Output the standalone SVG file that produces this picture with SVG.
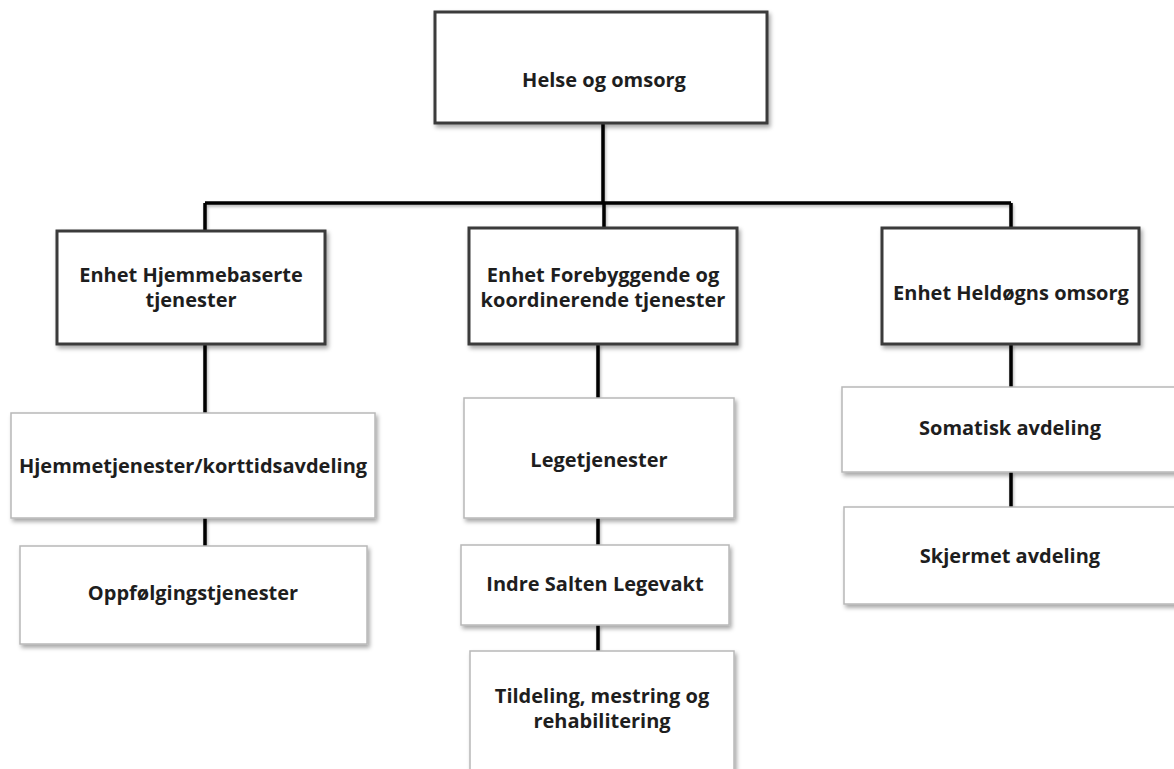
<svg xmlns="http://www.w3.org/2000/svg" width="1174" height="769" viewBox="0 0 1174 769">
  <defs>
    <filter id="shadow" x="-10%" y="-10%" width="130%" height="140%">
      <feDropShadow dx="2" dy="3" stdDeviation="2" flood-color="#000" flood-opacity="0.35"/>
    </filter>
    <filter id="lineShadow" x="-10%" y="-10%" width="130%" height="140%">
      <feDropShadow dx="1" dy="2" stdDeviation="1.5" flood-color="#000" flood-opacity="0.3"/>
    </filter>
  </defs>
  <style>
    .unit { fill: #ffffff; stroke: #3a3a3a; stroke-width: 3; filter: url(#shadow); }
    .sub { fill: #ffffff; stroke: #b8b8b8; stroke-width: 1.5; filter: url(#shadow); }
    .link { fill: none; stroke: #000000; stroke-width: 3.5; }
    text { font-family: "Open Sans", "Liberation Sans", sans-serif; font-weight: bold; font-size: 20px; fill: #1e1e1e; text-anchor: middle; }
  </style>
  <rect width="1174" height="769" fill="#ffffff"/>

  <!-- connectors -->
  <g id="connectors" filter="url(#lineShadow)">
    <path class="link" d="M603,123 V203 M205,203 H1011 M205,203 V231 M604,203 V228 M1011,203 V228"/>
    <path class="link" d="M205,344 V413 M205,518 V546"/>
    <path class="link" d="M598,344 V398 M598,518 V545 M598,625 V651"/>
    <path class="link" d="M1011,344 V387 M1011,472 V507"/>
  </g>

  <!-- top -->
  <g id="helse-og-omsorg">
    <rect class="unit" x="435" y="12" width="332" height="111"/>
    <text x="604" y="87">Helse og omsorg</text>
  </g>

  <!-- units -->
  <g id="enhet-hjemmebaserte">
    <rect class="unit" x="57" y="231" width="268" height="113"/>
    <text x="191" y="282">Enhet Hjemmebaserte</text>
    <text x="191" y="307">tjenester</text>
  </g>
  <g id="enhet-forebyggende">
    <rect class="unit" x="469" y="228" width="268" height="116"/>
    <text x="603" y="282">Enhet Forebyggende og</text>
    <text x="603" y="307">koordinerende tjenester</text>
  </g>
  <g id="enhet-heldogns">
    <rect class="unit" x="882" y="228" width="257" height="116"/>
    <text x="1011" y="300">Enhet Heldøgns omsorg</text>
  </g>

  <!-- left column -->
  <g id="hjemmetjenester">
    <rect class="sub" x="11" y="413" width="364" height="105"/>
    <text x="193" y="473">Hjemmetjenester/korttidsavdeling</text>
  </g>
  <g id="oppfolgingstjenester">
    <rect class="sub" x="20" y="546" width="347" height="98"/>
    <text x="193" y="600">Oppfølgingstjenester</text>
  </g>

  <!-- middle column -->
  <g id="legetjenester">
    <rect class="sub" x="464" y="398" width="270" height="120"/>
    <text x="599" y="467">Legetjenester</text>
  </g>
  <g id="legevakt">
    <rect class="sub" x="461" y="545" width="268" height="80"/>
    <text x="595" y="591">Indre Salten Legevakt</text>
  </g>
  <g id="tildeling">
    <rect class="sub" x="470" y="651" width="264" height="130"/>
    <text x="602" y="703">Tildeling, mestring og</text>
    <text x="602" y="728">rehabilitering</text>
  </g>

  <!-- right column -->
  <g id="somatisk">
    <rect class="sub" x="842" y="387" width="340" height="85"/>
    <text x="1010" y="435">Somatisk avdeling</text>
  </g>
  <g id="skjermet">
    <rect class="sub" x="844" y="507" width="340" height="97"/>
    <text x="1010" y="563">Skjermet avdeling</text>
  </g>
</svg>
